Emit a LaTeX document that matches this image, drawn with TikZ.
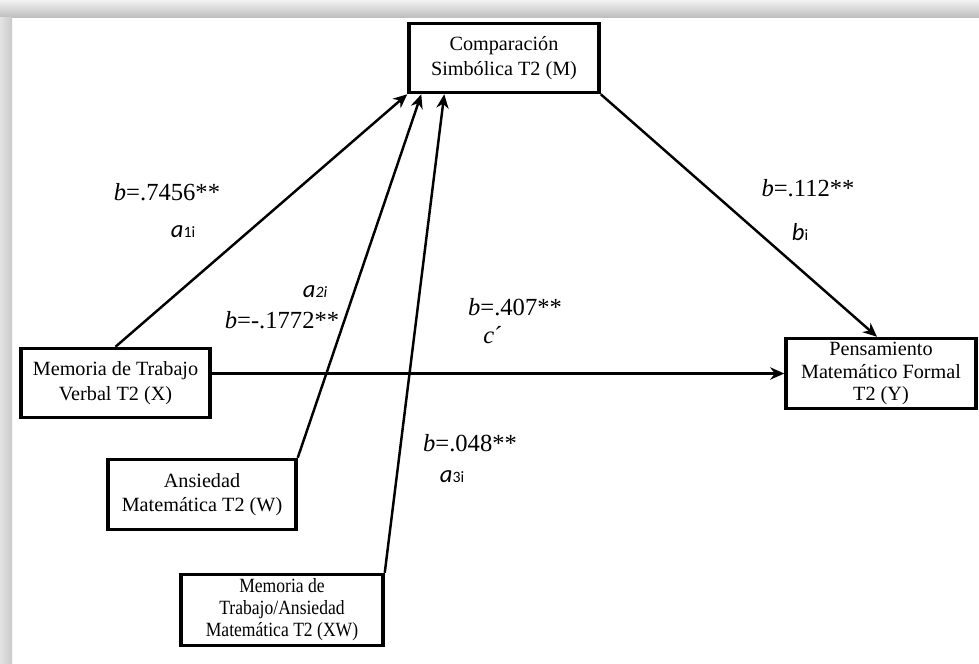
\documentclass[tikz,border=0pt]{standalone}
\usepackage{fontspec}
\setmainfont{Liberation Serif}
\newfontfamily\calfont{Carlito}
\newfontfamily\condfont{Liberation Serif}[FakeStretch=0.87]
\usetikzlibrary{arrows.meta,calc}
\begin{document}
\begin{tikzpicture}[x=0.02cm,y=-0.02cm,
  box/.style={draw,line width=2pt,align=center,inner sep=0pt,font=\fontsize{11.5}{14}\selectfont},
  conn/.style={line width=1.4pt},
  arr/.style={conn,-{Stealth[length=8pt,width=7pt]}},
  lab/.style={font=\fontsize{14}{16}\selectfont,inner sep=0pt},
  sym/.style={font=\calfont\fontsize{14}{16}\selectfont\itshape,inner sep=0pt}]
\useasboundingbox (0,0) rectangle (979,663);
\fill[white] (0,0) rectangle (979,663);
\shade[top color=gray!10,bottom color=gray!50] (0,0) rectangle (979,17);
\shade[left color=gray!22,right color=gray!42] (0,17) rectangle (12,663);

\node[box,minimum width=3.8cm,minimum height=1.38cm] (M) at (504,58) {Comparación\\Simbólica T2 (M)};
\node[box,minimum width=3.78cm,minimum height=1.38cm] (X) at (115.5,383) {Memoria de Trabajo\\Verbal T2 (X)};
\node[box,minimum width=3.76cm,minimum height=1.4cm] (W) at (202,494.5) {Ansiedad\\Matemática T2 (W)};
\node[box,minimum width=4.04cm,minimum height=1.42cm,font=\condfont\fontsize{11.5}{12.5}\selectfont] (XW) at (282,610) {Memoria de\\Trabajo/Ansiedad\\Matemática T2 (XW)};
\node[box,minimum width=3.8cm,minimum height=1.4cm,font=\fontsize{11.5}{13}\selectfont] (Y) at (881,373.5) {Pensamiento\\Matemático Formal\\T2 (Y)};

\draw[arr] (X.north) -- (M.south west);
\draw[arr] (W.north east) -- ([xshift=0.28cm]M.south west);
\draw[arr] (XW.north east) -- ([xshift=0.74cm]M.south west);
\draw[arr] (X.east |- Y.west) -- (Y.west);
\draw[arr] (M.south east) -- ([xshift=-0.08cm]Y.north);

\node[lab] (l1) at (167,192) {\textit{b}=.7456**};
\node[sym] (a1) at (183,232) {a{\upshape\fontsize{9}{9}\selectfont 1i}};
\node[lab] (l2) at (282,320) {\textit{b}=-.1772**};
\node[sym] (a2) at (315,292) {a{\fontsize{9}{9}\selectfont 2i}};
\node[lab] (l3) at (515,307) {\textit{b}=.407**};
\node[lab] (c) at (493,335) {\textit{c}´};
\node[lab] (l4) at (808,188) {\textit{b}=.112**};
\node[sym] (bi) at (800,232) {b{\upshape\fontsize{9}{9}\selectfont i}};
\node[lab] (l5) at (470,443) {\textit{b}=.048**};
\node[sym] (a3) at (452,477) {a{\upshape\fontsize{9}{9}\selectfont 3i}};
\end{tikzpicture}
\end{document}
